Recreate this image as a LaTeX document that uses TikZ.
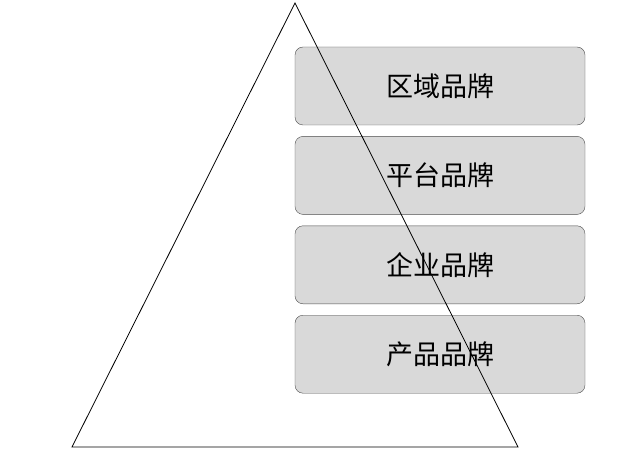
\documentclass[tikz,border=0pt]{standalone}
\usepackage{fontspec}
\newfontfamily\cjk{Noto Sans CJK SC}
\usetikzlibrary{positioning}
\tikzset{
  level/.style={draw=black!70, fill=black!15, rounded corners=8pt, minimum width=290pt,
    minimum height=78pt, inner sep=0pt, font=\cjk\fontsize{27}{30}\selectfont}
}
\begin{document}
\begin{tikzpicture}[x=1pt,y=-1pt]
\useasboundingbox (0,0) rectangle (640,468);
\node[level] (region) at (440,86) {区域品牌};
\node[level, below=11pt of region] (platform) {平台品牌};
\node[level, below=11pt of platform] (firm) {企业品牌};
\node[level, below=11pt of firm] (product) {产品品牌};
% pyramid
\coordinate (top) at (295,3);
\coordinate (left) at (72,447);
\coordinate (right) at (518,447);
\draw[line width=0.8pt] (top) -- (left) -- (right) -- cycle;
\end{tikzpicture}
\end{document}
